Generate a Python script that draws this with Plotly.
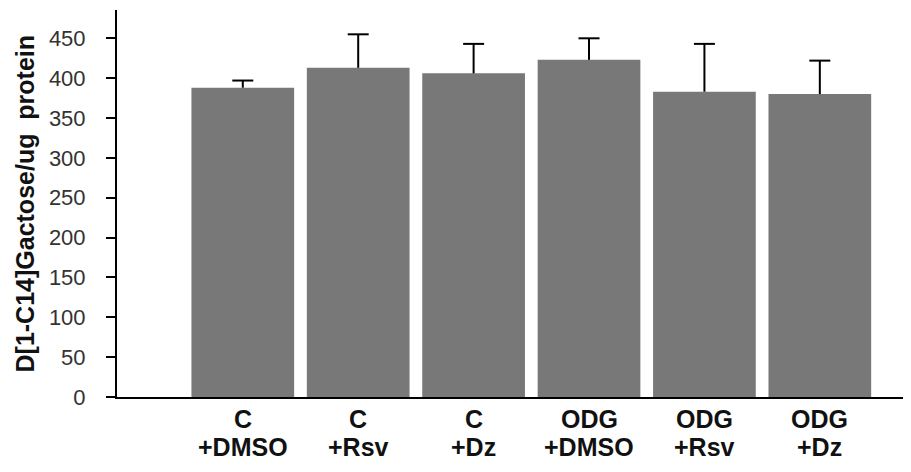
import plotly.graph_objects as go

cat_line1 = ["C", "C", "C", "ODG", "ODG", "ODG"]
cat_line2 = ["+DMSO", "+Rsv", "+Dz", "+DMSO", "+Rsv", "+Dz"]
values = [388, 413, 406, 423, 383, 380]
errors_up = [9, 42, 37, 27, 60, 42]
y_ticks = [0, 50, 100, 150, 200, 250, 300, 350, 400, 450]
y_title = "D[1-C14]Gactose/ug  protein"

xs = list(range(len(values)))
tops = [v + e for v, e in zip(values, errors_up)]

FONT = "Liberation Sans, Arial, sans-serif"

fig = go.Figure()
fig.add_trace(go.Bar(
    x=xs,
    y=values,
    width=0.89,
    marker=dict(color="#787878", line=dict(width=0)),
    error_y=dict(type="data", array=errors_up, arrayminus=[0] * len(values),
                 symmetric=False, color="#000000", thickness=2, width=0),
))
# caps at the top of the error bars
fig.add_trace(go.Scatter(
    x=xs, y=tops, mode="markers",
    marker=dict(symbol="line-ew", size=15, line=dict(width=2, color="#000000")),
    hoverinfo="skip",
))

annotations = [dict(
    text=y_title, textangle=-90,
    xref="paper", yref="paper", x=0, y=0.5,
    xshift=-93, xanchor="center", yanchor="middle",
    showarrow=False,
    font=dict(size=25, color="#111111", family=FONT, weight="bold"),
)]
for i, (a, b) in enumerate(zip(cat_line1, cat_line2)):
    annotations.append(dict(text=a, xref="x", yref="paper", x=i, y=0, yshift=-22,
                            xanchor="center", yanchor="middle", showarrow=False,
                            font=dict(size=25, color="#111111", family=FONT, weight="bold")))
    annotations.append(dict(text=b, xref="x", yref="paper", x=i, y=0, yshift=-50,
                            xanchor="center", yanchor="middle", showarrow=False,
                            font=dict(size=25, color="#111111", family=FONT, weight="bold")))

fig.update_layout(
    width=903, height=464,
    margin=dict(l=109, r=0, t=2, b=75),
    paper_bgcolor="white", plot_bgcolor="white",
    showlegend=False,
    font=dict(family=FONT),
    xaxis=dict(
        range=[-1.09, 5.79],
        tickmode="array",
        tickvals=xs,
        ticktext=[""] * len(xs),
        ticks="",
        showline=True, linecolor="#000000", linewidth=2,
        showgrid=False, zeroline=False,
    ),
    yaxis=dict(
        range=[0, 485.5],
        tickmode="array",
        tickvals=y_ticks,
        ticks="outside", ticklen=9, tickwidth=1.5, tickcolor="#000000",
        showline=True, linecolor="#000000", linewidth=2,
        showgrid=False, zeroline=False,
        ticklabelstandoff=16,
        tickfont=dict(size=22, color="#333333", family=FONT),
    ),
    annotations=annotations,
)

fig.write_html("out.html")
